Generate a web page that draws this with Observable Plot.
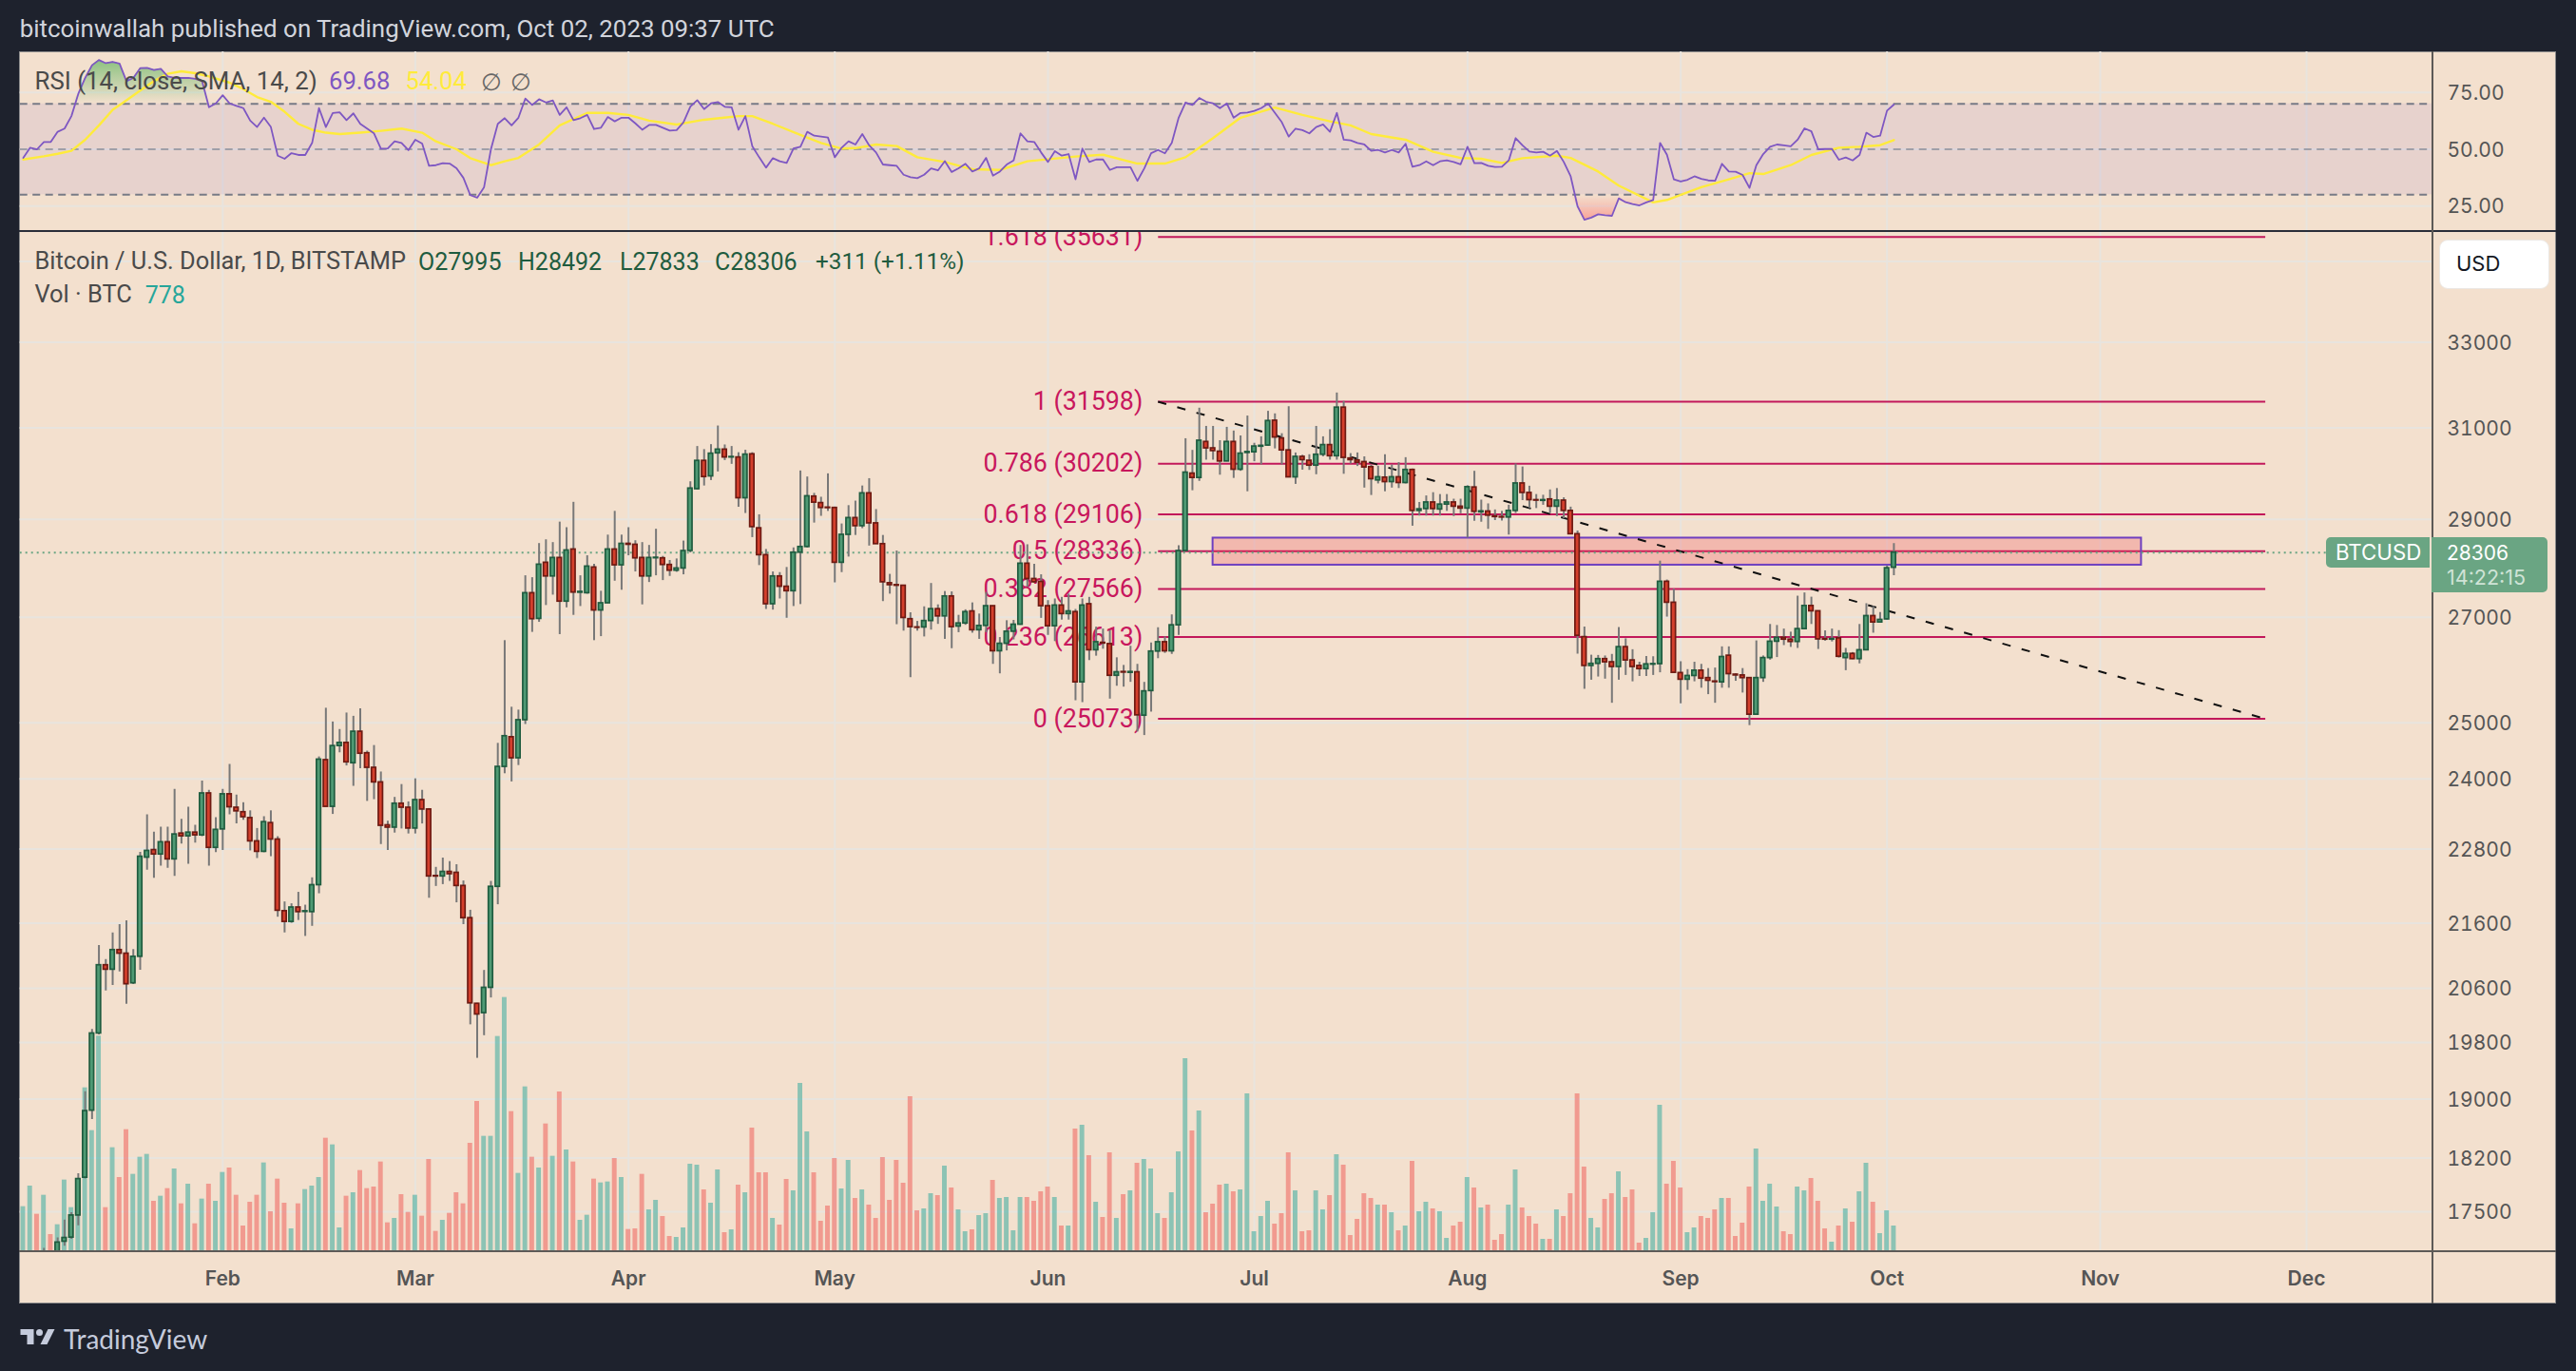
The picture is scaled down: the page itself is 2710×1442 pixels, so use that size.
<!DOCTYPE html>
<html><head><meta charset="utf-8">
<script src="https://cdn.jsdelivr.net/npm/d3@7"></script>
<script src="https://cdn.jsdelivr.net/npm/@observablehq/plot@0.6"></script>
<style>
html,body{margin:0;padding:0;background:#1e222d;width:2710px;height:1442px;overflow:hidden}
#stage{position:absolute;left:0;top:0;width:2710px;height:1442px;background:#1e222d;font-family:Inter,sans-serif}
#pane{position:absolute;left:20px;top:54px;width:2669px;height:1317px;background:#f3e0ce;box-sizing:border-box;border:1px solid #8d8d8d}
.l{position:absolute;white-space:nowrap;line-height:1;font-size:23px;color:#4a4a4a;font-family:Roboto,sans-serif}
#stage svg{position:absolute;left:0}
</style></head><body>
<div id="stage"><div id="pane"></div></div>
<svg width="0" height="0" style="position:absolute"><defs>
<linearGradient id="ob" x1="0" y1="0" x2="0" y2="1"><stop offset="0" stop-color="#4caf50" stop-opacity=".62"/><stop offset="1" stop-color="#4caf50" stop-opacity="0"/></linearGradient>
<linearGradient id="os" x1="0" y1="1" x2="0" y2="0"><stop offset="0" stop-color="#ff5252" stop-opacity=".42"/><stop offset="1" stop-color="#ff5252" stop-opacity="0"/></linearGradient>
</defs></svg>
<script>
// First bar is 3 Jan 2023, one bar per day
const opens=[16670,16670,16850,16830,16950,16945,17124,17175,17454,17942,
18841,19932,20949,20881,21182,21127,20675,21079,22660,22785,
22712,22915,22631,23061,23015,23077,23031,23746,22822,23131,
23731,23500,23423,23323,22930,22756,23238,22961,21792,21622,
21850,21780,21777,22209,24330,23515,24581,24637,24275,24839,
24452,24194,23938,23200,23161,23569,23500,23146,23631,23469,
22358,22351,22425,22410,22196,21681,20368,20230,20607,22182,
24210,24740,24363,25049,27480,26970,28097,27818,28195,27312,
28370,27490,27480,28000,27136,27279,28370,28045,28487,28468,
28195,27818,28190,28188,28052,27935,27980,28340,29646,30264,
29924,30431,30514,30340,30340,29451,30410,28812,28253,27260,
27818,27610,27520,28305,28422,29486,29347,29250,29243,28097,
28675,29028,28857,29556,28916,28481,27681,27642,27630,26964,
26802,26802,26928,27162,27019,27415,26820,26880,27117,26748,
26832,27221,26341,26485,26719,26856,28078,27766,27708,27221,
26826,27234,27065,27104,25750,27260,26360,26503,26479,25874,
25945,25930,25940,25132,25587,26335,26515,26340,26844,28338,
29985,29890,30685,30542,30468,30252,30685,30070,30440,30455,
30580,30605,31164,30764,30497,29903,30353,30267,30160,30400,
30615,30368,31463,30317,30274,30238,30127,29836,29897,29800,
29905,29780,30065,29180,29220,29360,29210,29315,29360,29270,
29230,29683,29150,29167,29065,29050,29040,29180,29770,29565,
29410,29395,29425,29270,29400,29180,28688,26613,26060,26100,
26190,26130,26040,26420,26165,26060,26000,26085,26095,27710,
27290,25925,25800,25870,25970,25830,25765,25750,26255,25895,
25880,25830,25150,25830,26210,26525,26600,26565,26520,26770,
27225,27120,26575,26565,26590,26210,26290,26190,26360,27025,
26900,26960,27995];
const highs=[16770,16980,16880,17040,16990,17170,17397,17489,17993,19103,
19992,21251,21037,21449,21579,21637,21189,22748,23377,23085,
23169,23169,23815,23300,23508,23200,23962,23800,23331,23815,
24254,23715,23585,23446,23146,23346,23446,23008,21939,21909,
22093,21887,22328,24387,25268,25016,24879,25180,25120,25258,
24490,24590,24120,23270,23677,23900,23600,24000,23800,23485,
22499,22652,22594,22543,22277,21806,20375,20870,22270,24629,
26545,25287,25234,27831,27792,28493,28571,28513,28942,28825,
29363,27831,28240,28065,27519,28669,29170,28669,28825,28552,
28513,28454,28792,28227,28143,28175,28545,29806,30583,30514,
30625,31044,30618,30583,30445,30500,30445,29097,28370,27909,
27896,28000,28403,30042,29910,29555,29472,29979,29260,28903,
29292,29389,29715,29874,29208,28662,27860,28338,27630,27090,
26920,27208,27675,27247,27513,27506,27040,27149,27286,27065,
27494,27221,26605,26934,26940,28454,28468,28065,27851,27331,
27364,27396,27461,27156,27364,27396,26808,26770,26740,26215,
26070,26437,26090,25749,26500,26796,26617,27048,28448,30757,
30497,31450,31035,31035,30713,31014,30930,30820,31270,30655,
30800,31378,31320,30870,31484,30439,30389,30400,31035,30800,
30960,31800,31605,30425,30440,30353,30170,30148,30400,30175,
30225,30335,30085,29360,29500,29570,29530,29530,29430,29430,
29720,30035,29410,29330,29200,29170,29300,30197,30130,29710,
29530,29515,29630,29660,29460,29260,28755,26810,26265,26260,
26250,26280,26800,26580,26370,26130,26240,26235,28130,27745,
27560,26140,25990,26130,26090,26010,26020,26425,26425,25910,
26010,25830,26540,26250,26860,26840,26770,26710,27420,27485,
27400,27125,26735,26770,26740,26395,26315,26860,27270,27215,
27095,28030,28492];
const lows=[16630,16650,16770,16680,16900,16910,17067,17152,17323,17924,
18719,19912,20560,20641,20847,20362,20655,20874,22454,22322,
22520,22484,22351,22885,22550,22900,23008,22520,22741,22778,
23377,23223,23285,22771,22645,22741,22675,21696,21449,21600,
21644,21394,21552,22070,23515,23385,24460,24227,23869,24178,
23608,23638,22877,22778,23069,23138,23054,23054,23223,21998,
22188,22218,22270,21925,21579,20058,19574,19899,20455,21894,
24089,23946,24234,24970,26706,26902,27234,27441,26662,27188,
27039,27214,27460,26545,26623,27272,27721,27539,28240,27909,
27247,27695,27831,27734,27818,27902,27851,28300,29632,29715,
29833,30021,30271,30188,29257,29125,28617,28039,27156,27143,
27364,26982,27214,27253,28403,28922,29065,29169,27688,27896,
28214,28662,28805,28441,28480,27312,27461,26856,26730,25838,
26730,26617,26750,26862,26570,26390,26700,26844,26690,26570,
26700,26090,25910,26347,26560,26844,27600,27680,26980,26647,
26527,26946,26946,25407,25372,26162,26246,26380,25437,25677,
25660,25750,24835,24770,25197,26198,26300,26280,26647,28325,
29612,29815,30280,30280,29950,30245,29880,30035,29590,30245,
30175,30590,30530,30175,29900,29750,30060,30055,29960,30353,
30280,30280,29970,30195,30140,29670,29510,29760,29590,29670,
29660,29760,28856,29070,29070,29070,29070,29170,29060,29120,
28607,28960,28940,28790,28975,28965,28670,29125,29400,29230,
29230,29300,29125,29060,29015,28680,26285,25620,25790,25850,
25810,25360,25790,25880,25760,25860,25860,25880,25930,27005,
25925,25350,25600,25760,25640,25520,25360,25640,25640,25770,
25550,24950,25140,25750,26170,26220,26450,26415,26395,26755,
26860,26375,26535,26520,26210,25970,26180,26100,26350,26690,
26895,26950,27833];
const closes=[16670,16850,16830,16950,16945,17113,17170,17454,17924,18835,
19932,20949,20881,21182,21127,20661,21079,22675,22771,22712,
22915,22631,23046,23015,23077,23031,23746,22822,23123,23731,
23508,23438,23338,22930,22756,23254,22961,21799,21622,21850,
21777,21790,22209,24339,23515,24581,24637,24291,24839,24444,
24194,23938,23192,23161,23569,23500,23146,23631,23469,22351,
22350,22425,22388,22196,21681,20375,20210,20607,22182,24210,
24758,24363,25049,27480,26964,28058,27818,28195,27312,28350,
27493,27506,28019,27136,27279,28370,28045,28487,28468,28188,
27818,28195,28200,28052,27935,27980,28338,29660,30264,29910,
30424,30514,30340,30350,29451,30403,28838,28253,27260,27818,
27610,27520,28305,28422,29493,29357,29243,29240,28097,28675,
29028,28857,29556,28916,28481,27700,27642,27630,26988,26808,
26795,26928,27162,27019,27415,26808,26880,27104,26748,26832,
27221,26341,26485,26719,26856,28078,27766,27700,27221,26826,
27234,27065,27117,25750,27234,26360,26515,26490,25874,25940,
25935,25945,25138,25581,26335,26515,26340,26844,28338,30007,
29890,30713,30542,30482,30252,30685,30070,30425,30460,30583,
30598,31157,30785,30497,29903,30353,30281,30160,30400,30615,
30368,31463,30331,30281,30224,30120,29863,29905,29800,29905,
29780,30065,29180,29214,29360,29220,29315,29360,29270,29230,
29690,29160,29170,29080,29050,29040,29180,29770,29565,29410,
29400,29410,29270,29400,29180,28688,26640,26060,26100,26190,
26130,26040,26420,26165,26040,26000,26090,26095,27710,27290,
25930,25800,25870,25970,25820,25780,25755,26230,25905,25880,
25830,25150,25830,26210,26525,26600,26565,26520,26770,27225,
27120,26570,26565,26575,26235,26290,26190,26360,27025,26900,
26950,27985,28306];
const volumes=[1420,2070,1180,1780,540,850,2260,1390,2270,5170,
3820,6800,1390,3280,2340,3850,2440,2980,3070,1590,
1750,1990,2610,1510,2130,880,1660,2130,1590,2500,
2640,1780,810,1560,1780,2800,1260,2290,1530,720,
1510,1960,2070,2340,3580,3370,750,1750,1860,2560,
1990,2040,2830,910,1050,1800,1240,1780,1120,2910,
640,990,1210,1860,1510,3420,4740,3640,3640,6790,
8020,4420,2470,5200,2980,2640,4030,3010,5040,3210,
2830,990,1150,2290,2170,2200,2940,2340,700,720,
2440,1320,1620,1110,480,450,750,2760,2730,1950,
1530,2580,600,690,2100,1860,3900,2490,2490,1050,
840,2280,1920,5310,3780,2490,960,1440,2940,1980,
2880,1680,1950,1470,1050,2970,1620,2880,2160,4890,
1290,1350,1830,1770,2700,2010,1320,630,690,1140,
1200,2250,1680,1710,660,1710,1710,1590,1890,2040,
1710,810,810,3870,3990,3030,1560,1080,3120,1050,
1800,1920,2790,2910,2610,1200,1050,1860,3150,6090,
3810,4440,1230,1500,2100,2130,1890,1950,4980,630,
1110,1590,870,1200,3120,1920,630,660,1920,1320,
1770,3060,2730,510,1020,1830,1680,1470,1470,1230,
660,810,2850,1260,1560,1350,1260,420,810,930,
2340,2010,1380,1470,360,540,1470,2580,1380,1110,
870,390,390,1320,1110,1830,4980,2670,1050,750,
1650,1830,2520,1710,1950,270,420,1230,4620,2130,
2850,2010,600,750,1110,1050,1320,1680,1680,480,
900,2040,3240,1590,2130,1410,630,540,2040,1920,
2310,1590,720,300,810,1350,930,1890,2790,1560,
570,1290,810];
const rsiValues=[46.2,50.7,50,53.2,53.2,57.7,59.1,64.6,74.4,81.4,
87,89.3,87.9,88.5,87.7,80,81.4,85.7,85.8,84.9,
85.4,82.1,81.4,81.4,81.4,81,80,68.5,70.2,73.8,
70.2,69.1,68.1,62.6,59.8,63.9,59.8,47.2,45.8,48.3,
47.5,47.5,52.8,68.1,59.8,66,66.3,62.8,65.8,61.2,
59.1,57,50.3,50.4,53.5,52.8,49.6,54.2,52.5,42.7,
43,43.9,43.7,41.6,37.4,29.8,28.7,33.3,50,61.2,
63.7,60.5,63.9,72.3,69.5,72,70.6,71.5,65.1,68.5,
62.8,63.7,65.1,58.9,59.5,64.2,62.3,63.9,63.9,61.4,
58.6,60.7,60.7,59.5,58.2,58.4,61.9,68.8,71.6,67.7,
70.2,70.8,68.7,68.5,58.6,64.6,51.4,46.5,41.9,46.1,
44.7,44,50.4,51.1,57.7,56,55.6,55.2,46.5,50.7,
53.5,52.1,56.7,51.7,48.6,43.3,43,42.7,38.8,37.7,
37.3,38.8,41.6,40.7,44.8,40,41.6,43.6,40.2,41.6,
46.2,38.4,40.2,43.3,45.1,57,53.5,53.2,48.6,44.4,
49.2,47.2,47.9,36.8,50.3,44.4,45.5,45.5,40.9,42.1,
42.1,42.1,36.1,41.6,48.3,49.7,48.2,52.8,63.9,70.6,
69.5,72.6,70.9,70.2,68.1,70.2,63.9,66,66.2,66.9,
68.1,70.1,66,61.9,55.6,59.1,58.4,57,59.8,60.9,
57.7,66,54.2,53.9,52.8,52.1,49.3,49.7,48.6,49.7,
48.6,52.4,42.3,43,44.7,43,44.7,45.1,44.4,43.4,
51.1,43.9,44,42.7,42.2,42.3,45.1,54.9,51.7,49,
48.6,48.9,47.2,49.3,44.4,38.1,24.9,19,19.9,21.4,
21,20.7,28.4,26.7,25.9,25.3,26.6,27.7,52.8,47.6,
36.8,35.8,36.6,38.1,37,36.3,36.1,43.6,40.2,40.1,
38.7,33,43,47.9,51.1,52.1,51.7,51.3,54.2,59.2,
57.9,50,50.1,50.1,45.4,46.4,45.1,47.5,57.3,55.4,
56,67,69.68];
// RSI-based moving average: values read at these bar numbers
const maBars=[0,3,5,7,9,11,13,15,17,19,21,23,25,27,30,32,34,36,38,40,42,44,46,49,52,55,58,60,63,65,68,70,72,75,78,82,85,88,91,95,99,104,106,109,113,116,119,121,124,127,130,134,138,142,146,153,157,162,166,169,173,177,182,186,190,193,196,201,205,209,212,215,218,223,225,229,232,237,239,244,248,251,253,257,260,264,267,270,272];
const maValues=[45.5,46.9,48,49.3,54.2,60.5,67.4,71.6,75.8,80,83.2,84.3,83.5,82.1,79.3,76.5,73,70.9,66.5,61.2,58.6,57.3,56.7,57.3,58.1,59.1,57.3,53.5,50,46.1,43,44.7,46.2,52.1,60.5,66,66,65.1,62.6,60.9,63,64.6,64.6,61.2,56.3,52.8,50.3,50.5,52.1,51.4,46.5,44.4,41.2,40.9,44.7,46.8,47.6,43.7,43.7,46.5,54.9,63.9,68.4,65.1,62.3,60.5,56.7,54.2,48.9,46.2,45.8,44,46.1,47.2,46.2,40.2,34,26.6,27.7,33.3,36.8,39.5,39.1,43,47.5,50.7,51.1,51.8,54.04];
const fibLevels=["1.618","1","0.786","0.618","0.5","0.382","0.236","0"];
const fibPrices=[35631,31598,30202,29106,28336,27566,26613,25073];
const priceTicks=[33000,31000,29000,27000,25000,24000,22800,21600,20600,19800,19000,18200,17500];
const priceGrid=[35000,...priceTicks];
const rsiTicks=[75,50,25];
const monthNames=["2023-02-01","2023-03-01","2023-04-01","2023-05-01","2023-06-01","2023-07-01","2023-08-01","2023-09-01","2023-10-01","2023-11-01","2023-12-01"];
const lastPrice=28306;

const barDate=i=>new Date(Date.UTC(2023,0,3+i));
const shift=(d,days)=>new Date(+d+days*864e5);
const rows=opens.map((o,i)=>({date:barDate(i),o,h:highs[i],l:lows[i],c:closes[i],vol:volumes[i],rsi:rsiValues[i],up:closes[i]>=o}));
const ups=rows.filter(d=>d.up), downs=rows.filter(d=>!d.up);
const maRows=maBars.map((b,i)=>({date:barDate(b),v:maValues[i]}));
const months=monthNames.map(s=>new Date(s+"T00:00:00Z"));
const fibs=fibLevels.map((l,i)=>({label:`${l} (${fibPrices[i]})`,p:fibPrices[i]}));
const fibFrom=new Date("2023-06-17T00:00:00Z"), fibTo=new Date("2023-11-25T00:00:00Z");
const boxFrom=new Date("2023-06-25T00:00:00Z"), boxTo=new Date("2023-11-07T00:00:00Z");
const xDomain=[new Date("2023-01-02T13:06:00Z"),new Date("2023-12-19T09:07:00Z")];
const paneStart=xDomain[0], paneEnd=xDomain[1];

const GRID="#e8e4de";
const common={width:2710,marginLeft:20.7,marginRight:151,style:{background:"transparent",fontFamily:"Inter, sans-serif"}};
const priceFrame={...common,height:1128,marginTop:0,marginBottom:55,
  x:{type:"utc",domain:xDomain},y:{type:"log",domain:[16999,35775]}};
const stage=document.getElementById("stage");
function place(svg,top){svg.style.top=top+"px";svg.style.maxWidth="none";stage.appendChild(svg);}

// RSI pane
const up30=rows.map(d=>({date:d.date,a:30,b:Math.min(d.rsi,30)}));
const up70=rows.map(d=>({date:d.date,a:70,b:Math.max(d.rsi,70)}));
place(Plot.plot({...common,height:189,marginTop:0,marginBottom:0,
  x:{type:"utc",domain:xDomain,axis:null},y:{domain:[13.8,92.9]},
  marks:[
    Plot.ruleX(months,{stroke:GRID,strokeWidth:2}),
    Plot.ruleY(rsiTicks,{stroke:GRID,strokeWidth:2}),
    Plot.rect([{a:30,b:70}],{x1:()=>paneStart,x2:()=>paneEnd,y1:"a",y2:"b",fill:"#7e57c2",fillOpacity:.1}),
    Plot.areaY(up70,{x:"date",y1:"a",y2:"b",fill:"url(#ob)"}),
    Plot.areaY(up30,{x:"date",y1:"a",y2:"b",fill:"url(#os)"}),
    Plot.ruleY([70,30],{stroke:"#787b86",strokeWidth:2,strokeDasharray:"8,5.5"}),
    Plot.ruleY([50],{stroke:"#787b86",strokeOpacity:.6,strokeWidth:2,strokeDasharray:"8,5.5"}),
    Plot.line(maRows,{x:"date",y:"v",stroke:"#ffeb3b",strokeWidth:2.4,curve:"linear"}),
    Plot.line(rows,{x:"date",y:"rsi",stroke:"#7e57c2",strokeWidth:1.8}),
    Plot.axisY(rsiTicks,{anchor:"right",tickSize:0,tickPadding:15,fontSize:21,fill:"#555",label:null,dy:1,tickFormat:d=>d.toFixed(2)})
  ]}),54);

// Price pane: grid, then volume, then drawings and candles
place(Plot.plot({...priceFrame,axis:null,marks:[
    Plot.ruleX(months,{stroke:GRID,strokeWidth:2}),
    Plot.ruleY(priceGrid,{stroke:GRID,strokeWidth:2})
]}),243);
place(Plot.plot({...common,height:1128,marginTop:0,marginBottom:55,axis:null,
  x:{type:"utc",domain:xDomain},y:{domain:[0,32190]},
  marks:[
    Plot.rect(ups,{x1:d=>shift(d.date,-.34),x2:d=>shift(d.date,.34),y1:()=>0,y2:"vol",fill:"#26a69a",fillOpacity:.5}),
    Plot.rect(downs,{x1:d=>shift(d.date,-.34),x2:d=>shift(d.date,.34),y1:()=>0,y2:"vol",fill:"#ef5350",fillOpacity:.5})
]}),243);
const C=[{a:fibPrices[1],b:fibPrices[7]}];
place(Plot.plot({...priceFrame,marks:[
    Plot.text(fibs,{x:()=>fibFrom,y:"p",text:"label",textAnchor:"end",dx:-16,fontSize:26.8,fill:"#c8175d",clip:true,fontFamily:"Roboto"}),
    Plot.link(fibs,{x1:()=>fibFrom,x2:()=>fibTo,y1:"p",y2:"p",stroke:"#c2185b",strokeWidth:2,clip:true}),
    Plot.rect([{a:28047,b:28606}],{x1:()=>boxFrom,x2:()=>boxTo,y1:"a",y2:"b",fill:"#f23645",fillOpacity:.23,stroke:"#6e3fc0",strokeWidth:2}),
    Plot.link(C,{x1:()=>fibFrom,x2:()=>fibTo,y1:"a",y2:"b",stroke:"#111",strokeWidth:2,strokeDasharray:"9,12"}),
    Plot.ruleY([lastPrice],{stroke:"#6aa583",strokeWidth:2,strokeDasharray:"2,4",x1:()=>paneStart,x2:()=>new Date("2023-12-09T00:00:00Z")}),
    Plot.ruleX(rows,{x:"date",y1:"l",y2:"h",stroke:"#787878",strokeWidth:2,clip:true}),
    Plot.rect(ups,{x1:d=>shift(d.date,-.31),x2:d=>shift(d.date,.31),y1:"o",y2:"c",fill:"#4f9a74",stroke:"#1f5c3f",strokeWidth:1.7,clip:true}),
    Plot.rect(downs,{x1:d=>shift(d.date,-.31),x2:d=>shift(d.date,.31),y1:"o",y2:"c",fill:"#d43f2c",stroke:"#6e1a12",strokeWidth:1.7,clip:true}),
    Plot.axisY(priceTicks,{anchor:"right",tickSize:0,tickPadding:15,fontSize:21,fill:"#555",label:null,dy:1,tickFormat:d=>String(d)}),
    Plot.axisX(months,{anchor:"bottom",tickSize:0,tickPadding:21,fontSize:21,fontWeight:600,fill:"#555",label:null,tickFormat:d3.utcFormat("%b")})
]}),243);

// Chrome and legends
function box(l,t,w,h,bg,extra){const e=document.createElement("div");e.style.cssText=`position:absolute;left:${l}px;top:${t}px;width:${w}px;height:${h}px;background:${bg};${extra||""}`;stage.appendChild(e);return e;}
box(20,242,2669,2.4,"#2a2e39");
box(2558,54,1.8,1317,"#5d5a57");
box(20,1315.4,2669,2,"#5d5a57");
function text(s,l,cy,color,size,extra){const e=document.createElement("div");e.className="l";e.textContent=s;e.style.left=l+"px";e.style.top=(cy-size/2)+"px";e.style.fontSize=size+"px";e.style.color=color;if(extra)e.style.cssText+=extra;stage.appendChild(e);return e;}
text("bitcoinwallah published on TradingView.com, Oct 02, 2023 09:37 UTC",20.7,31,"#d1d4dc",25.9);
text("RSI (14, close, SMA, 14, 2)",36.5,86,"#4a4a4a",25.8);
text("69.68",346,86,"#7e57c2",25.6);
text("54.04",426.5,86,"#ffeb3b",25.6);
text("∅",506,86,"#666",25);
text("∅",537,86,"#666",25);
text("Bitcoin / U.S. Dollar, 1D, BITSTAMP",36.5,275,"#4a4a4a",25.4);
const dark="#1f5c3f";
text("O27995",440,275,dark,25);
text("H28492",545,275,dark,25);
text("L27833",652,275,dark,25);
text("C28306",752,275,dark,25);
text("+311 (+1.11%)",858,275,dark,24.3);
text("Vol · BTC",36.5,310,"#4a4a4a",25.4);
text("778",152.7,310,"#26a69a",25);
// USD button
box(2566,252,116,52,"#fff","border-radius:9px;border:1px solid #ece8e4;box-sizing:border-box");
text("USD",2584,277,"#131722",22,"font-family:Inter;");
// last price labels
box(2447,565,109,32,"#6aa583","border-radius:5px 0 0 5px");
box(2558,565,122,58,"#6aa583","border-radius:0 5px 5px 0");
text("BTCUSD",2457,581,"#fff",22.3,"font-family:Inter;");
text("28306",2574,581,"#fff",21,"font-family:Inter;");
text("14:22:15",2574,608,"#cfe3d6",21.5,"font-family:Inter;");
// footer
text("TradingView",67,1408,"#c5cbdc",28,"font-family:Lato;");
const logo=document.createElementNS("http://www.w3.org/2000/svg","svg");
logo.setAttribute("width","39");logo.setAttribute("height","20");logo.setAttribute("viewBox","0 0 36 20");
logo.style.cssText="left:20px;top:1396px;position:absolute";
logo.innerHTML='<path fill="#c5cbdc" d="M14 2H0v6h7v10h7zM28 18h-7l8-16h7z"/><circle cx="20" cy="5.5" r="3.5" fill="#c5cbdc"/>';
stage.appendChild(logo);
</script>
</body></html>
